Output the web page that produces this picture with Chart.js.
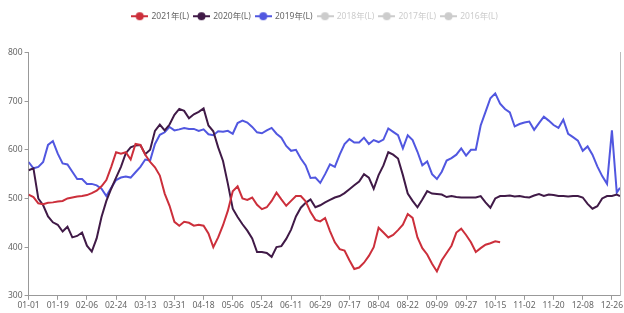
<!DOCTYPE html>
<html>
<head>
<meta charset="utf-8">
<script src="https://cdn.jsdelivr.net/npm/chart.js@4/dist/chart.umd.min.js"></script>
<style>
    html, body {margin: 0; padding: 0; background: #fff;}
</style>
</head>
<body>
<canvas id="lineChart" width="624" height="313"></canvas>
<script>
// day index (0 = 01-01), one sample every 3 days, plus 12-31
const days = [];
for (let d = 0; d <= 363; d += 3) days.push(d);
days.push(365);

const xTickDays = [0, 18, 36, 54, 72, 90, 108, 126, 144, 162, 180, 198, 216, 234, 252, 270, 288, 306, 324, 342, 360];
const yTicks = [300, 400, 500, 600, 700, 800];

const legendNames = ["2021年(L)", "2020年(L)", "2019年(L)", "2018年(L)", "2017年(L)", "2016年(L)"];
const legendColors = ["#cc2f3b", "#401a47", "#5157e0", "#cccccc", "#cccccc", "#cccccc"];

const values2021 = [
    508, 503, 490, 488, 491, 492, 494, 495, 500, 502,
    504, 505, 507, 511, 516, 525, 538, 565, 595, 592,
    595, 580, 612, 610, 590, 575, 564, 547, 510, 485,
    452, 444, 452, 450, 444, 446, 444, 428, 400, 420,
    445, 475, 515, 525, 500, 497, 502, 487, 478, 482,
    495, 512, 498, 485, 495, 505, 505, 494, 472, 456,
    453, 460, 433, 410, 396, 393, 373, 355, 358, 368,
    382, 400, 440, 430, 420, 425, 435, 446, 468, 460,
    420, 398, 385, 366, 350, 373, 388, 403, 430, 438,
    425, 410, 390, 398, 405, 408, 412, 410
];

const values2020 = [
    558, 562, 500, 486, 463, 451, 446, 432, 442, 420,
    423, 430, 403, 391, 418, 462, 495, 520, 543, 565,
    593, 605, 609, 610, 591, 600, 639, 652, 640, 652,
    672, 684, 680, 665, 673, 678, 685, 650, 638, 605,
    577, 530, 479, 462, 447, 434, 418, 390, 390, 388,
    380, 400, 402, 417, 436, 463, 481, 491, 498, 482,
    486, 492, 497, 502, 505, 511, 519, 527, 535, 550,
    543, 520, 548, 568, 595, 590, 582, 548, 510, 495,
    482, 498, 515, 510, 509, 508, 503, 505, 503, 502,
    502, 502, 502, 505, 492, 481, 500, 505, 505, 506,
    504, 505, 503, 502, 506, 509, 505, 508, 507, 505,
    505, 504, 505, 505, 502, 489, 479, 484, 500, 505,
    505, 508, 505
];

const values2019 = [
    575, 562, 565, 575, 610, 618, 592, 572, 570, 555,
    540, 540, 530, 530, 527, 520, 505, 522, 538, 543,
    545, 543, 554, 565, 580, 578, 612, 631, 636, 647,
    640, 642, 645, 643, 643, 639, 642, 632, 630, 638,
    637, 639, 633, 655, 660, 656, 647, 636, 634, 640,
    645, 633, 625, 608, 598, 600, 582, 568, 542, 543,
    532, 550, 570, 565, 590, 612, 622, 615, 615, 625,
    612, 620, 616, 621, 644, 637, 630, 603, 630, 620,
    596, 568, 576, 550, 540, 555, 578, 583, 590, 603,
    588, 600, 600, 650, 678, 706, 716, 695, 684, 677,
    648, 653, 656, 658, 641, 655, 668, 660, 651, 645,
    662, 633, 626, 619, 598, 607, 590, 566, 546, 530,
    640, 512, 522
];

const seriesValues = [values2021, values2020, values2019, [], [], []];

function toPoints(vals) {
    return vals.map((v, i) => ({x: days[i], y: v}));
}

function dayLabel(d) {
    const dt = new Date(2020, 0, 1 + d);
    const mm = String(dt.getMonth() + 1).padStart(2, "0");
    const dd = String(dt.getDate()).padStart(2, "0");
    return mm + "-" + dd;
}

function legendMark(color) {
    const c = document.createElement("canvas");
    c.width = 17;
    c.height = 10;
    const g = c.getContext("2d");
    g.strokeStyle = color;
    g.lineWidth = 2;
    g.beginPath();
    g.moveTo(0, 5);
    g.lineTo(17, 5);
    g.stroke();
    g.fillStyle = color;
    g.beginPath();
    g.arc(8.5, 5, 4, 0, Math.PI * 2);
    g.fill();
    return c;
}

const datasets = legendNames.map((name, i) => ({
    label: name,
    data: toPoints(seriesValues[i]),
    borderColor: legendColors[i],
    backgroundColor: legendColors[i],
    borderWidth: 2,
    pointRadius: 0,
    tension: 0,
    fill: false,
    hidden: i >= 3
}));

// extra room between the legend and the plot
const legendGap = {
    id: "legendGap",
    beforeLayout(chart) {
        const lg = chart.legend;
        if (lg && !lg._gapPatched) {
            const fit = lg.fit;
            lg.fit = function () {
                fit.call(this);
                this.height += 22;
            };
            lg._gapPatched = true;
        }
    }
};

Chart.defaults.font.family = "'Noto Sans', 'Noto Sans CJK SC', sans-serif";

const ctx = document.getElementById("lineChart").getContext("2d");
new Chart(ctx, {
    type: "line",
    data: {datasets: datasets},
    plugins: [legendGap],
    options: {
        responsive: false,
        animation: false,
        layout: {padding: {left: 6, right: 0, top: 7, bottom: 1}},
        plugins: {
            tooltip: {enabled: false},
            legend: {
                position: "top",
                labels: {
                    usePointStyle: true,
                    pointStyleWidth: 15,
                    boxHeight: 9,
                    padding: 5,
                    font: {size: 8.5},
                    generateLabels: function (chart) {
                        return legendNames.map((name, i) => ({
                            text: name,
                            fillStyle: legendColors[i],
                            strokeStyle: legendColors[i],
                            fontColor: i >= 3 ? "#cccccc" : "#666666",
                            pointStyle: legendMark(legendColors[i]),
                            hidden: false,
                            lineWidth: 0,
                            datasetIndex: i
                        }));
                    }
                }
            }
        },
        scales: {
            x: {
                type: "linear",
                min: 0,
                max: 365,
                afterBuildTicks: function (axis) {
                    axis.ticks = xTickDays.map(v => ({value: v}));
                },
                ticks: {
                    callback: v => dayLabel(v),
                    color: "#666",
                    font: {size: 8.5},
                    maxRotation: 0,
                    autoSkip: false,
                    padding: 1
                },
                grid: {drawOnChartArea: false, tickLength: 4, color: "#999"},
                border: {color: "#999"}
            },
            y: {
                min: 300,
                max: 800,
                afterBuildTicks: function (axis) {
                    axis.ticks = yTicks.map(v => ({value: v}));
                },
                ticks: {color: "#666", font: {size: 8.5}, padding: 2},
                grid: {drawOnChartArea: false, tickLength: 4, color: "#999"},
                border: {color: "#999"}
            },
            y2: {
                position: "right",
                min: 300,
                max: 800,
                ticks: {display: false},
                grid: {drawOnChartArea: false, drawTicks: false},
                border: {color: "#bbb"}
            }
        }
    }
});
</script>
</body>
</html>
